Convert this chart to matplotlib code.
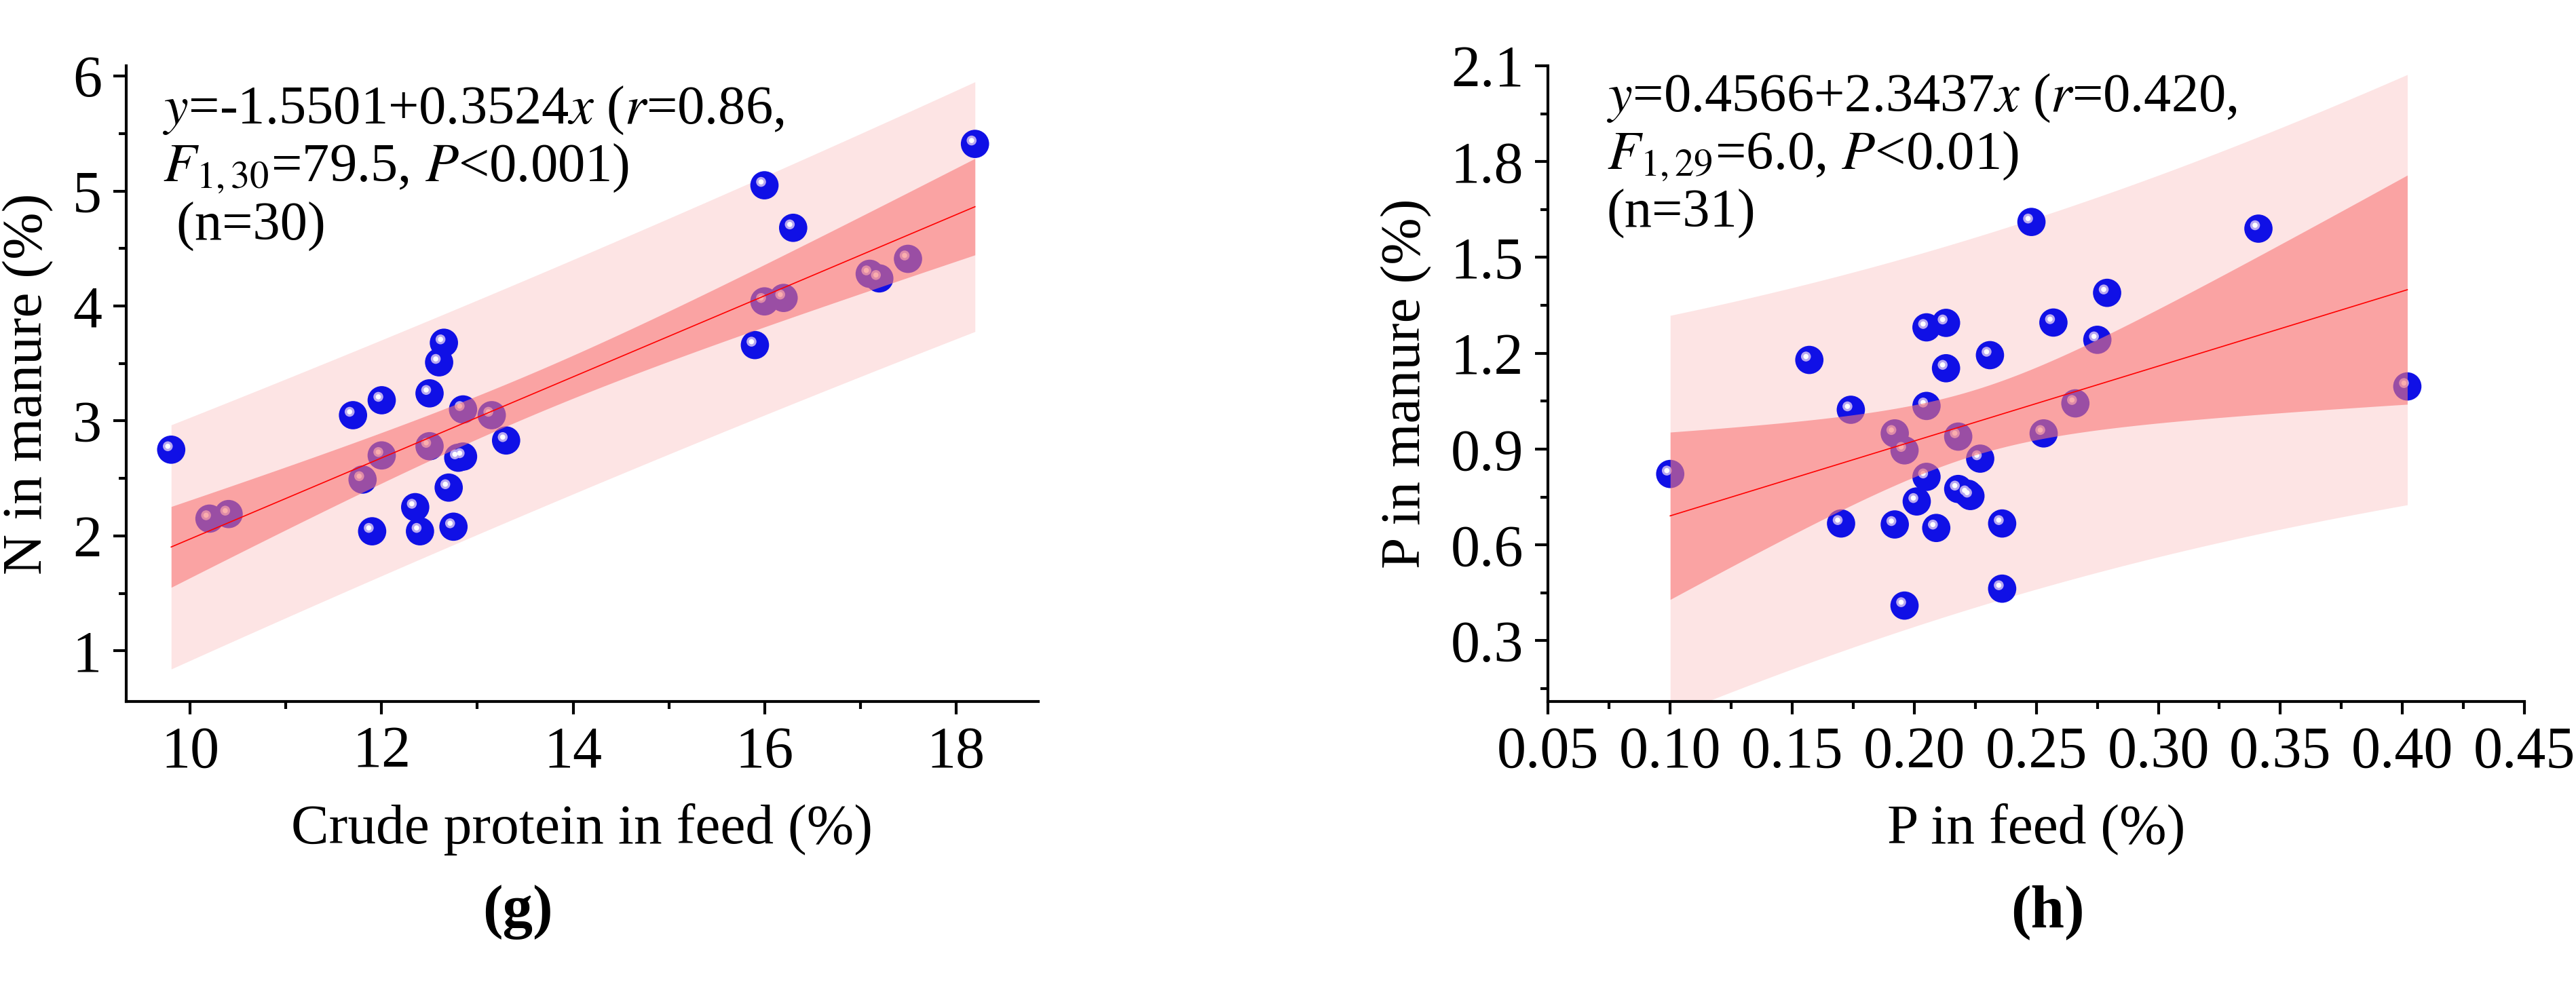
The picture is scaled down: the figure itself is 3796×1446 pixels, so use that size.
import numpy as np
import matplotlib
matplotlib.use('Agg')
import matplotlib.pyplot as plt

plt.rcParams['font.family'] = ['Liberation Serif', 'DejaVu Serif']
plt.rcParams['mathtext.fontset'] = 'stix'

# panel g: crude protein in feed vs N in manure
cp_feed = [9.8, 10.2, 10.4, 11.7, 12.0, 11.8, 12.0, 11.9, 12.35, 12.4, 12.5, 12.5, 12.6, 12.65, 12.8,
           12.85, 12.7, 12.75, 12.85, 13.15, 13.3, 15.9, 16.0, 16.0, 16.2, 16.3, 17.1, 17.2, 17.5, 18.2]
n_manure = [2.75, 2.15, 2.19, 3.05, 3.18, 2.49, 2.70, 2.04, 2.25, 2.04, 3.24, 2.78, 3.51, 3.68, 2.68,
            2.69, 2.42, 2.08, 3.10, 3.05, 2.83, 3.66, 5.05, 4.04, 4.07, 4.68, 4.28, 4.24, 4.41, 5.41]
coef_g = (-1.5501, 0.3524)

# panel h: P in feed vs P in manure
p_feed = [0.100, 0.157, 0.170, 0.174, 0.192, 0.192, 0.196, 0.196, 0.201, 0.205, 0.205, 0.205, 0.209,
          0.213, 0.213, 0.218, 0.218, 0.223, 0.222, 0.227, 0.231, 0.236, 0.236, 0.248, 0.253, 0.257,
          0.266, 0.275, 0.279, 0.341, 0.402]
p_manure = [0.822, 1.179, 0.667, 1.023, 0.949, 0.664, 0.896, 0.410, 0.736, 1.281, 1.035, 0.813, 0.653,
            1.295, 1.153, 0.939, 0.775, 0.753, 0.760, 0.870, 1.194, 0.667, 0.463, 1.611, 0.949, 1.296,
            1.043, 1.242, 1.389, 1.590, 1.096]
coef_h = (0.4566, 2.3437)


def bands(x, y, coef, t=2.05):
    x = np.asarray(x); y = np.asarray(y)
    n = len(x)
    res = y - (coef[0] + coef[1] * x)
    s = np.sqrt(np.sum(res ** 2) / (n - 2))
    xs = np.linspace(x.min(), x.max(), 200)
    fit = coef[0] + coef[1] * xs
    sxx = np.sum((x - x.mean()) ** 2)
    ci = t * s * np.sqrt(1 / n + (xs - x.mean()) ** 2 / sxx)
    pi = t * s * np.sqrt(1 + 1 / n + (xs - x.mean()) ** 2 / sxx)
    return xs, fit, ci, pi


def panel(ax, x, y, coef):
    xs, fit, ci, pi = bands(x, y, coef)
    ax.fill_between(xs, fit - pi, fit + pi, color='#fde4e4', lw=0, zorder=1)
    ax.scatter(x, y, s=900, color='#1010e6', edgecolors='none', zorder=2)
    shift = matplotlib.transforms.ScaledTranslation(-0.05, 0.05, ax.figure.dpi_scale_trans)
    ax.scatter(x, y, s=110, color='#b8a8f0', edgecolors='none', zorder=2.4,
               transform=ax.transData + shift)
    ax.scatter(x, y, s=30, color='white', edgecolors='none', zorder=2.5,
               transform=ax.transData + shift)
    ax.fill_between(xs, fit - ci, fit + ci, color='#f87878', alpha=0.6, lw=0, zorder=3)
    ax.plot(xs, fit, color='red', lw=1.2, zorder=4)
    for sp in ['top', 'right']:
        ax.spines[sp].set_visible(False)
    for sp in ['left', 'bottom']:
        ax.spines[sp].set_linewidth(3)
    ax.tick_params(which='major', labelsize=62, width=3, length=14, pad=12)
    ax.tick_params(which='minor', width=3, length=8)


fig = plt.figure(figsize=(37.96, 14.46), dpi=100)

ax1 = fig.add_axes([0.049, 0.285, 0.354, 0.648])
panel(ax1, cp_feed, n_manure, coef_g)
ax1.set_xlim(9.33, 18.86)
ax1.set_ylim(0.56, 6.09)
ax1.set_xticks([10, 12, 14, 16, 18])
ax1.set_xticks([11, 13, 15, 17], minor=True)
ax1.set_yticks([1, 2, 3, 4, 5, 6])
ax1.set_yticks([1.5, 2.5, 3.5, 4.5, 5.5], minor=True)
ax1.set_xlabel('Crude protein in feed (%)', fontsize=60, labelpad=25)
ax1.set_ylabel('N in manure (%)', fontsize=60, labelpad=20)
ax1.text(0.04, 0.97, '$y$=-1.5501+0.3524$x$ ($r$=0.86,\n$F_{1,30}$=79.5, $P$<0.001)\n (n=30)',
         transform=ax1.transAxes, fontsize=58, va='top', linespacing=1.15)
fig.text(0.201, 0.055, '(g)', fontsize=64, fontweight='bold', ha='center')

ax2 = fig.add_axes([0.601, 0.285, 0.379, 0.648])
panel(ax2, p_feed, p_manure, coef_h)
ax2.set_xlim(0.05, 0.45)
ax2.set_ylim(0.11, 2.1)
ax2.set_xticks(np.round(np.arange(0.05, 0.451, 0.05), 2))
ax2.set_xticks(np.round(np.arange(0.075, 0.45, 0.05), 3), minor=True)
ax2.set_yticks(np.round(np.arange(0.3, 2.11, 0.3), 1))
ax2.set_yticks(np.round(np.arange(0.15, 2.1, 0.15), 2), minor=True)
ax2.xaxis.set_major_formatter(matplotlib.ticker.FormatStrFormatter('%.2f'))
ax2.yaxis.set_major_formatter(matplotlib.ticker.FormatStrFormatter('%.1f'))
ax2.set_xlabel('P in feed (%)', fontsize=60, labelpad=25)
ax2.set_ylabel('P in manure (%)', fontsize=60, labelpad=20)
ax2.text(0.06, 0.99, '$y$=0.4566+2.3437$x$ ($r$=0.420,\n$F_{1,29}$=6.0, $P$<0.01)\n(n=31)',
         transform=ax2.transAxes, fontsize=58, va='top', linespacing=1.15)
fig.text(0.795, 0.055, '(h)', fontsize=64, fontweight='bold', ha='center')

fig.savefig('out.png', dpi=100)
